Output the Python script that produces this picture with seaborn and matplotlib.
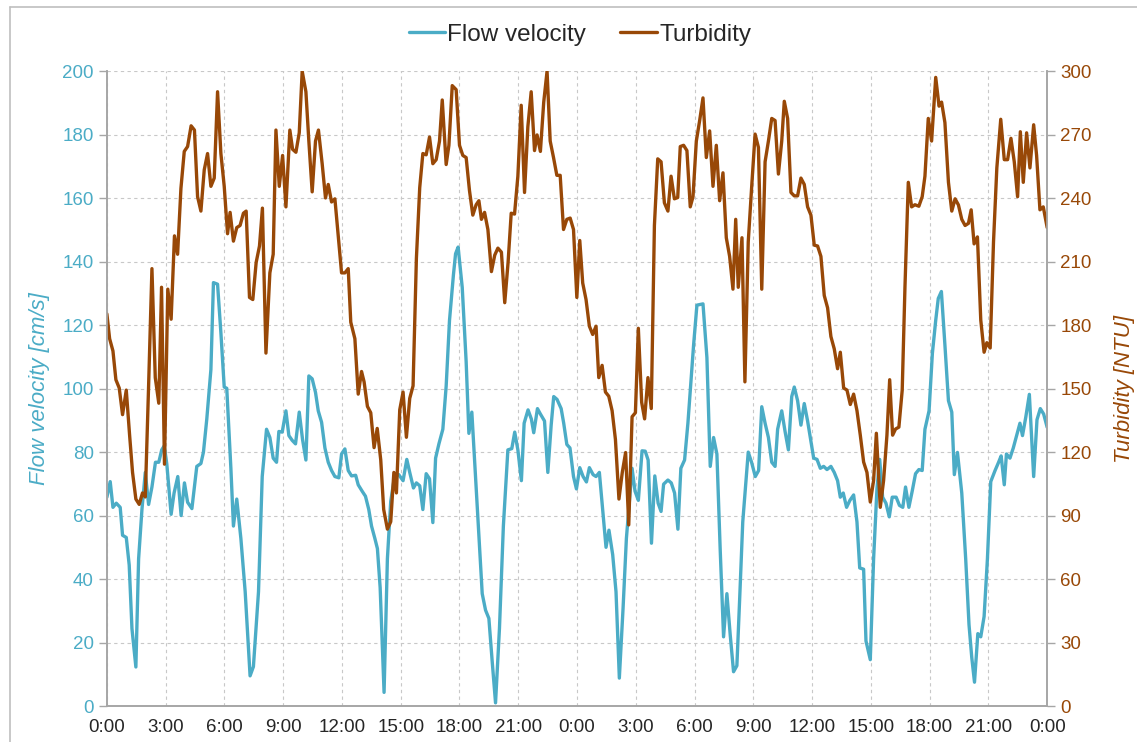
import matplotlib
matplotlib.use("Agg")
import matplotlib.pyplot as plt
from matplotlib.lines import Line2D
import seaborn as sns

# Flow velocity trace (hours since start, cm/s)
flow_hours = [0, 0.17, 0.31, 0.48, 0.68, 0.8, 0.99, 1.14, 1.28, 1.48, 1.62, 1.79, 1.96, 2.13, 2.3, 2.48, 2.65, 2.8, 2.93,
              3.06, 3.28, 3.43, 3.62, 3.79, 3.96, 4.12, 4.34, 4.59, 4.8, 4.93, 5.1, 5.31, 5.44, 5.65, 5.82, 5.99,
              6.12, 6.33, 6.46, 6.63, 6.84, 7.06, 7.31, 7.48, 7.74, 7.93, 8.15, 8.32, 8.49, 8.66, 8.78, 8.95,
              9.14, 9.29, 9.46, 9.63, 9.82, 9.99, 10.16, 10.31, 10.48, 10.65, 10.79, 10.96, 11.13, 11.3, 11.47,
              11.64, 11.84, 11.98, 12.15, 12.32, 12.49, 12.7, 12.83, 13.03, 13.2, 13.37, 13.51, 13.68, 13.81,
              13.95, 14.15, 14.32, 14.49, 14.7, 14.9, 15.12, 15.31, 15.46, 15.65, 15.8, 15.97, 16.13, 16.3,
              16.47, 16.64, 16.78, 16.95, 17.15, 17.32, 17.49, 17.69, 17.8, 17.93, 18.14, 18.34, 18.48, 18.63,
              18.82, 18.99, 19.16, 19.33, 19.5, 19.67, 19.84, 20.04, 20.24, 20.47, 20.67, 20.82, 20.98, 21.16,
              21.3, 21.5, 21.67, 21.79, 21.98, 22.13, 22.34, 22.51, 22.68, 22.81, 22.98, 23.19, 23.32, 23.48,
              23.64, 23.82, 23.97, 24.14, 24.31, 24.48, 24.63, 24.82, 24.97, 25.14, 25.31, 25.48, 25.63, 25.82,
              25.99, 26.16, 26.35, 26.52, 26.69, 26.81, 26.96, 27.13, 27.32, 27.48, 27.63, 27.8, 27.97, 28.14,
              28.29, 28.42, 28.64, 28.81, 28.98, 29.15, 29.3, 29.49, 29.66, 29.83, 29.95, 30.12, 30.43, 30.63,
              30.8, 30.97, 31.14, 31.31, 31.48, 31.65, 31.82, 31.99, 32.16, 32.3, 32.46, 32.74, 32.91, 33.1,
              33.27, 33.43, 33.6, 33.77, 33.94, 34.11, 34.24, 34.45, 34.62, 34.79, 34.96, 35.09, 35.26, 35.43,
              35.6, 35.77, 35.94, 36.08, 36.25, 36.42, 36.59, 36.76, 36.96, 37.13, 37.3, 37.44, 37.59, 37.76,
              37.93, 38.12, 38.29, 38.43, 38.63, 38.75, 38.97, 39.14, 39.31, 39.45, 39.6, 39.77, 39.94, 40.09,
              40.29, 40.46, 40.63, 40.77, 40.94, 41.11, 41.28, 41.45, 41.62, 41.76, 41.97, 42.14, 42.31, 42.44,
              42.6, 42.78, 42.96, 43.13, 43.26, 43.42, 43.64, 43.84, 44.01, 44.15, 44.29, 44.46, 44.61, 44.78,
              44.95, 45.12, 45.34, 45.52, 45.65, 45.81, 45.92, 46.1, 46.27, 46.44, 46.61, 46.74, 46.91, 47.09,
              47.31, 47.48, 47.65, 47.82, 48]
flow_values = [65.8, 70.7, 62.6, 63.9, 62.6, 53.8, 53.1, 44.4, 24.4, 12.3, 46.4, 61.9, 73.6, 63.5, 69, 76.8, 76.8, 80.7, 82,
               76.2, 60.4, 67.1, 72.3, 60, 70.3, 64.2, 62.2, 75.5, 76.4, 80, 90.4, 106, 133.4, 132.9, 117.6, 100.5,
               100.1, 74.9, 56.7, 65.2, 52.8, 36, 9.5, 12.4, 36, 72.3, 87.2, 84.6, 78.1, 76.8, 86.5, 86.3,
               93, 85.2, 83.7, 82.6, 92.6, 83.9, 77.5, 104, 103.1, 98.8, 93, 89.4, 81.3, 76.8, 74.2,
               72.3, 71.9, 79.4, 81, 74.2, 72.5, 72.7, 69.7, 67.7, 66.1, 61.9, 56.7, 52.8, 49.6,
               37.3, 4.3, 46.4, 64.5, 72.9, 72.9, 71, 77.7, 73.6, 68.7, 70.3, 69.4, 61.9, 73.2,
               71.6, 57.8, 78.1, 82.6, 87.2, 100.8, 121.5, 135.8, 142.5, 144.6, 131.9, 108.5, 85.9, 92.6,
               72.3, 54.1, 35.4, 30.2, 27.6, 14, 1, 24.4, 56.7, 80.7, 81.1, 86.3, 80.7, 71,
               89.1, 93.3, 90.4, 86.1, 93.7, 92, 89.8, 73.6, 88.5, 97.5, 96.6, 93.7, 89.1, 82.4,
               81.3, 72.3, 68.4, 75.1, 72.3, 70.6, 75.1, 72.9, 72.3, 73.6, 61.9, 50, 55.4, 47.7,
               36, 8.8, 30.8, 52.8, 65.8, 74.9, 67.7, 64.8, 80.4, 80.3, 77.5, 51.3, 72.5, 63.9,
               61.3, 69.9, 71.2, 70.3, 67.1, 55.7, 74.9, 77.5, 89.1, 103.4, 113.7, 126.3, 126.7, 109.8,
               75.5, 84.6, 79.4, 49, 21.8, 35.4, 22.4, 10.8, 12.7, 33.4, 58, 80, 76.8, 72.3,
               74.2, 94.3, 89.1, 84.6, 76.8, 75.5, 87.2, 93, 86.5, 80.7, 97.5, 100.5, 96.2, 88.5,
               95.3, 89.8, 83.3, 78.1, 77.7, 74.9, 75.5, 74.5, 75.5, 73.6, 71, 65.8, 67.1, 62.6,
               64.8, 66.5, 58, 43.5, 43.1, 20.5, 14.6, 46.4, 68.4, 77.7, 65.8, 63.9, 59.6, 65.8,
               65.8, 63.2, 62.6, 69, 62.6, 67.7, 73.2, 74.5, 74.2, 87.2, 93, 111.1, 121.5, 128.4,
               130.6, 113.7, 96.2, 92.6, 72.9, 79.9, 67.1, 46.4, 25.6, 15.3, 7.5, 22.8, 21.8, 28.2,
               46.4, 70.7, 74.2, 76.8, 78.8, 69.7, 79.4, 78.1, 81.3, 85.2, 89.1, 85.2, 91.1, 98.2,
               72.3, 90.2, 93.7, 92, 87.8]

# Turbidity trace (hours since start, NTU)
turb_hours = [0, 0.14, 0.31, 0.46, 0.63, 0.8, 0.99, 1.16, 1.31, 1.48, 1.65, 1.82, 1.96, 2.13, 2.3, 2.47, 2.65, 2.79, 2.94,
              3.11, 3.28, 3.45, 3.61, 3.78, 3.95, 4.12, 4.3, 4.47, 4.63, 4.8, 4.97, 5.14, 5.31, 5.48, 5.65, 5.82,
              5.99, 6.16, 6.29, 6.46, 6.63, 6.8, 6.97, 7.11, 7.28, 7.45, 7.62, 7.79, 7.94, 8.12, 8.32, 8.49,
              8.63, 8.8, 8.97, 9.14, 9.34, 9.48, 9.65, 9.82, 9.97, 10.16, 10.31, 10.48, 10.65, 10.8, 10.99,
              11.16, 11.3, 11.47, 11.64, 11.81, 11.98, 12.15, 12.32, 12.45, 12.66, 12.83, 13, 13.13, 13.3,
              13.47, 13.64, 13.8, 13.98, 14.13, 14.32, 14.49, 14.65, 14.78, 14.95, 15.12, 15.29, 15.46, 15.63,
              15.8, 15.97, 16.13, 16.3, 16.47, 16.64, 16.81, 16.98, 17.12, 17.32, 17.46, 17.63, 17.83, 18,
              18.17, 18.34, 18.51, 18.68, 18.85, 18.99, 19.12, 19.28, 19.45, 19.63, 19.8, 19.96, 20.14, 20.31,
              20.48, 20.64, 20.81, 20.98, 21.15, 21.32, 21.49, 21.66, 21.83, 21.96, 22.13, 22.3, 22.47, 22.63,
              22.8, 22.97, 23.14, 23.31, 23.48, 23.65, 23.82, 23.99, 24.14, 24.29, 24.46, 24.63, 24.8, 24.97,
              25.11, 25.28, 25.45, 25.62, 25.79, 25.96, 26.14, 26.31, 26.48, 26.64, 26.81, 26.98, 27.13, 27.3,
              27.45, 27.62, 27.79, 27.95, 28.12, 28.29, 28.46, 28.64, 28.8, 28.97, 29.14, 29.27, 29.44, 29.61,
              29.78, 29.92, 30.09, 30.26, 30.43, 30.6, 30.77, 30.94, 31.11, 31.28, 31.45, 31.62, 31.79, 31.96,
              32.1, 32.23, 32.42, 32.57, 32.74, 32.91, 33.09, 33.26, 33.43, 33.6, 33.77, 33.94, 34.11, 34.28,
              34.45, 34.58, 34.75, 34.92, 35.09, 35.26, 35.43, 35.6, 35.77, 35.94, 36.11, 36.28, 36.45, 36.62,
              36.79, 36.96, 37.13, 37.3, 37.44, 37.61, 37.78, 37.95, 38.12, 38.29, 38.46, 38.63, 38.8, 38.97,
              39.14, 39.28, 39.48, 39.65, 39.82, 39.96, 40.11, 40.26, 40.43, 40.6, 40.74, 40.91, 41.08, 41.25,
              41.45, 41.62, 41.76, 41.93, 42.1, 42.31, 42.48, 42.61, 42.78, 42.96, 43.13, 43.3, 43.47, 43.64,
              43.81, 43.98, 44.12, 44.27, 44.44, 44.61, 44.78, 44.92, 45.09, 45.26, 45.43, 45.63, 45.81, 45.98,
              46.15, 46.32, 46.49, 46.63, 46.78, 46.95, 47.12, 47.31, 47.46, 47.63, 47.8, 48]
turb_values = [185.3, 173.6, 167.8, 154.2, 150.3, 137.7, 149.3, 128, 110.4, 97.8, 95.3, 100.7, 98.8, 151.3, 206.7, 155.2,
               143.1, 197.9, 114.3, 197, 182.8, 222.2, 213.5, 244.6, 262.1, 264.4, 274.2, 272.2, 240.7, 233.9,
               253.4, 261.1, 245.6, 249.5, 290.3, 261.1, 245.6, 223.2, 233.3, 219.7, 226.1, 227.1, 232.9, 233.9,
               193.1, 192.1, 209.6, 217.4, 235.3, 166.8, 204.7, 213.5, 272.2, 245.6, 260.2, 235.9, 272.2, 263.1,
               261.7, 270.9, 300, 290.3, 267, 243, 267, 272.2, 256.3, 240.1, 246.5, 238.2, 239.7, 222.2, 204.7,
               204.7, 206.7, 181.4, 173.6, 147.4, 158.1, 153.2, 141.6, 138.6, 122.1, 131.2, 116.3, 92.9, 83.6,
               87.1, 110.4, 100.7, 140, 148.4, 127, 145.4, 151.3, 211.5, 245, 261.1, 260.5, 268.9, 256.3, 258.2,
               267, 286.4, 255.9, 265, 293.2, 291.3, 265, 260.2, 259.2, 243.6, 232, 236.9, 238.8, 230, 233.3,
               225.2, 205.3, 213.1, 216.4, 214.5, 190.6, 209.6, 232.9, 232.5, 250.4, 283.9, 242.7, 273.8, 290.3,
               262.5, 269.9, 262.1, 285.4, 300, 267, 259.2, 250.8, 250.8, 225.2, 230, 230.6, 225.2, 193.1, 220,
               199.9, 192.1, 179.5, 175.6, 179.5, 155.2, 161, 148.4, 146.4, 139.6, 126, 97.8, 110.4, 119.8, 85.6,
               136.7, 138.6, 178.5, 143.5, 135.7, 155.2, 140.6, 227.1, 258.6, 257.2, 237.8, 233.9, 250.4, 239.7,
               240.3, 264.4, 265, 262.5, 235.9, 240.7, 267, 276.7, 287.4, 259.2, 271.8, 245.6, 265, 238.8, 252,
               221.3, 212.5, 197, 230, 197.9, 221.3, 153.2, 219.3, 244.6, 270.3, 264, 197, 257.2, 267, 277.7,
               276.7, 251.4, 267, 285.8, 277.7, 242.7, 241.1, 241.1, 249.5, 246.5, 235.9, 232, 217.8, 217.4,
               212.5, 194, 188.2, 174.6, 168.8, 159.4, 167.2, 150.3, 149.3, 142.5, 147.4, 139.6, 128, 115.3,
               110.4, 96.4, 106.6, 128.9, 93.9, 106.6, 128, 154.2, 128, 130.9, 131.8, 149.3, 197.9, 247.5, 235.9,
               236.9, 236.2, 240.7, 250.4, 277.7, 267, 297.1, 283.5, 285.4, 275.7, 247.5, 233.9, 239.7, 236.8,
               230, 227.1, 228.1, 234.5, 218.4, 221.7, 182.4, 167.2, 171.7, 169.2, 219.3, 254.3, 277.3, 258.2,
               258.2, 268.3, 257.2, 240.7, 271.4, 247.5, 270.9, 254.3, 274.7, 260.2, 234.5, 235.9, 226.1]

tick_hours = list(range(0, 49, 3))
tick_labels = [f"{h % 24}:00" for h in tick_hours]

flow_color = "#4BACC6"
turb_color = "#984807"

sns.set_style("white")
plt.rcParams["font.family"] = ["Liberation Sans", "DejaVu Sans"]

fig = plt.figure(figsize=(11.37, 7.42), dpi=100)
ax = fig.add_axes([0.094, 0.0485, 0.827, 0.8555])
ax2 = ax.twinx()

sns.lineplot(x=flow_hours, y=flow_values, ax=ax, color=flow_color, linewidth=2.4, label="Flow velocity", legend=False)
sns.lineplot(x=turb_hours, y=turb_values, ax=ax2, color=turb_color, linewidth=2.4, label="Turbidity", legend=False)

ax.set_xlim(0, 48)
ax.set_ylim(0, 200)
ax2.set_ylim(0, 300)
ax.set_xticks(tick_hours)
ax.set_xticklabels(tick_labels)
ax.set_yticks(range(0, 201, 20))
ax2.set_yticks(range(0, 301, 30))

ax.grid(True, color="#C8C8C8", linestyle=(0, (3, 3)), linewidth=0.8)
ax.set_axisbelow(True)

for a in (ax, ax2):
    a.spines["top"].set_visible(False)
    for s in ("left", "right", "bottom"):
        a.spines[s].set_color("#A6A6A6")
        a.spines[s].set_linewidth(1.2)

ax.tick_params(axis="x", colors="#A6A6A6", labelcolor="#262626", labelsize=13.5, length=6, width=1, direction="out")
ax.tick_params(axis="y", colors="#A6A6A6", labelcolor=flow_color, labelsize=13.5, length=6, width=1, direction="out")
ax2.tick_params(axis="y", colors="#A6A6A6", labelcolor=turb_color, labelsize=13.5, length=6, width=1, direction="out")

ax.set_ylabel("Flow velocity [cm/s]", color=flow_color, fontsize=16, style="italic", labelpad=9)
ax2.set_ylabel("Turbidity [NTU]", color=turb_color, fontsize=16, style="italic", labelpad=16)

handles = [Line2D([0], [0], color=flow_color, lw=2.4), Line2D([0], [0], color=turb_color, lw=2.4)]
fig.legend(handles, ["Flow velocity", "Turbidity"], loc="center", bbox_to_anchor=(0.51, 0.953), ncol=2,
           frameon=False, fontsize=17.5, handlelength=1.5, handletextpad=0.1, columnspacing=1.4)

# chart frame (partly cut off at the right and bottom)
fig.add_artist(Line2D([10 / 1137, 1], [1 - 7 / 742, 1 - 7 / 742], color="#BFBFBF", lw=1.2))
fig.add_artist(Line2D([10 / 1137, 10 / 1137], [0, 1 - 7 / 742], color="#BFBFBF", lw=1.2))

fig.savefig("out.png", dpi=100)
